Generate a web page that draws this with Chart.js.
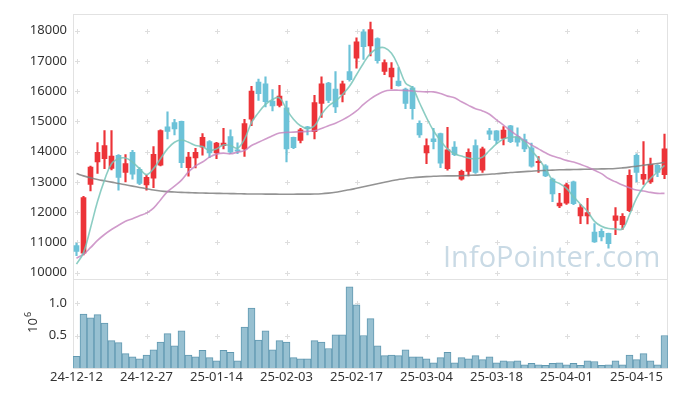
<!DOCTYPE html>
<html>
<head>
<meta charset="utf-8">
<script src="https://cdn.jsdelivr.net/npm/chart.js@4/dist/chart.umd.min.js"></script>
<style>
  html, body { margin: 0; padding: 0; background: #fff; }
</style>
</head>
<body>
<canvas id="stockChart" width="677" height="396"></canvas>
<script>
// trading days shown on the chart
const dates = [
  '24-12-12', '24-12-13', '24-12-16', '24-12-17', '24-12-18', '24-12-19', '24-12-20', '24-12-23', '24-12-24', '24-12-26',
  '24-12-27', '24-12-30', '25-01-02', '25-01-03', '25-01-06', '25-01-07', '25-01-08', '25-01-09', '25-01-10', '25-01-13',
  '25-01-14', '25-01-15', '25-01-16', '25-01-17', '25-01-20', '25-01-21', '25-01-22', '25-01-23', '25-01-24', '25-01-31',
  '25-02-03', '25-02-04', '25-02-05', '25-02-06', '25-02-07', '25-02-10', '25-02-11', '25-02-12', '25-02-13', '25-02-14',
  '25-02-17', '25-02-18', '25-02-19', '25-02-20', '25-02-21', '25-02-24', '25-02-25', '25-02-26', '25-02-27', '25-02-28',
  '25-03-04', '25-03-05', '25-03-06', '25-03-07', '25-03-10', '25-03-11', '25-03-12', '25-03-13', '25-03-14', '25-03-17',
  '25-03-18', '25-03-19', '25-03-20', '25-03-21', '25-03-24', '25-03-25', '25-03-26', '25-03-27', '25-03-28', '25-03-31',
  '25-04-01', '25-04-02', '25-04-03', '25-04-04', '25-04-07', '25-04-08', '25-04-09', '25-04-10', '25-04-11', '25-04-14',
  '25-04-15', '25-04-16', '25-04-17', '25-04-18', '25-04-21'
];

const opens = [
  10900, 10650, 12920, 13660, 13770, 13450, 13880, 13310, 13980, 13420,
  12900, 13120, 13550, 14820, 14960, 15000, 13470, 13790, 14150, 14330,
  13960, 14200, 14500, 14060, 14090, 15070, 16300, 16240, 15670, 15530,
  15450, 14470, 14370, 14820, 14660, 15590, 16270, 16070, 15890, 16650,
  17090, 17960, 17490, 17740, 16650, 16470, 16330, 16070, 16110, 14940,
  13960, 14420, 14600, 13440, 14150, 13090, 13350, 14200, 13390, 14690,
  14690, 14440, 14850, 14500, 14400, 14130, 13640, 13530, 13090, 12210,
  12300, 13000, 11880, 11880, 11340, 11370, 11300, 11730, 11590, 12050,
  13880, 13090, 13000, 13550, 13240
];
const highs = [
  10980, 12520, 13520, 14300, 14700, 14700, 13900, 13900, 14040, 13470,
  13220, 14170, 14720, 15320, 15070, 15010, 13980, 14110, 14600, 14370,
  14310, 14770, 14720, 14290, 15070, 16160, 16400, 16470, 16050, 16190,
  15670, 14480, 14770, 14840, 15860, 16470, 16290, 16650, 16330, 17520,
  17760, 18030, 18280, 17760, 17030, 16940, 16780, 16100, 16160, 15020,
  14420, 14770, 14610, 14800, 14330, 13390, 14090, 14390, 14150, 14770,
  14700, 14830, 14870, 14790, 14580, 14280, 13840, 13570, 13130, 12620,
  12950, 13030, 12260, 12460, 11620, 11450, 11310, 12150, 11950, 13400,
  13930, 14330, 13790, 13570, 14580
];
const lows = [
  10560, 10590, 12700, 13280, 13440, 13400, 12730, 13000, 13090, 12910,
  12730, 12810, 13530, 14420, 14550, 13470, 13190, 13460, 13880, 13800,
  13770, 14090, 13930, 13930, 13840, 14860, 15690, 15480, 15350, 15480,
  13660, 14100, 14290, 14550, 14420, 15130, 15620, 15290, 15640, 16330,
  16760, 17050, 17160, 16920, 16540, 16070, 16160, 15420, 15070, 14470,
  13600, 14090, 13470, 13390, 13870, 13060, 13200, 13280, 13310, 14400,
  14260, 14220, 14300, 14180, 14000, 13490, 13310, 13170, 12350, 12150,
  12260, 12250, 11620, 11610, 11000, 11050, 10810, 11260, 11430, 12020,
  13000, 12920, 12950, 13170, 13110
];
const closes = [
  10700, 12480, 13490, 13980, 14200, 13850, 13150, 13610, 13260, 12950,
  13150, 13910, 14700, 14670, 14750, 13640, 13820, 13980, 14470, 13960,
  14280, 14280, 13980, 14020, 14930, 16000, 15920, 15650, 15510, 15840,
  14090, 14130, 14720, 14750, 15620, 16240, 15690, 15480, 16240, 16380,
  17630, 17470, 18030, 17010, 16940, 16760, 16180, 15590, 15420, 14550,
  14200, 14330, 13620, 14060, 13900, 13350, 13980, 13310, 14090, 14580,
  14370, 14710, 14330, 14310, 14090, 13520, 13680, 13200, 12600, 12300,
  12900, 12280, 12150, 11990, 11020, 11180, 10960, 11880, 11860, 13220,
  13310, 13250, 13580, 13310, 14090
];

const volumes = [
  180000, 830000, 770000, 820000, 690000, 420000, 390000, 220000, 170000, 140000,
  200000, 280000, 400000, 530000, 340000, 570000, 200000, 170000, 270000, 160000,
  110000, 270000, 240000, 110000, 630000, 920000, 430000, 570000, 280000, 420000,
  400000, 160000, 140000, 140000, 420000, 400000, 300000, 510000, 510000, 1250000,
  970000, 500000, 760000, 340000, 190000, 200000, 190000, 280000, 170000, 170000,
  140000, 80000, 160000, 240000, 80000, 160000, 140000, 190000, 130000, 170000,
  80000, 110000, 100000, 110000, 50000, 70000, 50000, 40000, 70000, 80000,
  50000, 70000, 40000, 110000, 100000, 40000, 50000, 110000, 50000, 200000,
  130000, 220000, 110000, 50000, 500000
];

// moving averages as they appear on the chart
const ma5 = [
  10283, 10663, 11480, 12351, 13060, 13602, 13766, 13788, 13657, 13440,
  13242, 13440, 13766, 14092, 14310, 14386, 14310, 14202, 14169, 14039,
  14092, 14223, 14200, 14114, 14418, 14963, 15290, 15561, 15725, 15780,
  15398, 15071, 14855, 14767, 14855, 15235, 15510, 15670, 15888, 16161,
  16541, 16923, 17249, 17412, 17434, 17249, 16814, 16270, 16106, 15616,
  15127, 14691, 14365, 14092, 13929, 13853, 13788, 13766, 13820, 14039,
  14256, 14418, 14473, 14473, 14310, 14039, 13766, 13440, 13060, 12948,
  12785, 12514, 12264, 12024, 11698, 11535, 11459, 11447, 11447, 11916,
  12460, 12841, 13112, 13331, 13549
];
const ma20 = [
  10480, 10610, 10827, 11067, 11263, 11427, 11567, 11698, 11784, 11884,
  11970, 12133, 12406, 12678, 12862, 13060, 13331, 13527, 13657, 13820,
  13918, 13951, 13929, 13984, 14039, 14202, 14310, 14418, 14527, 14614,
  14637, 14647, 14659, 14669, 14691, 14767, 14855, 14941, 15051, 15182,
  15345, 15561, 15747, 15888, 15997, 16031, 16031, 16020, 16008, 15986,
  15975, 15975, 15920, 15835, 15780, 15649, 15529, 15420, 15345, 15235,
  15051, 14876, 14691, 14527, 14365, 14223, 14092, 13962, 13853, 13788,
  13712, 13657, 13582, 13494, 13385, 13275, 13112, 13004, 12896, 12808,
  12733, 12700, 12655, 12622, 12622
];
const ma60 = [
  13275, 13200, 13135, 13080, 13037, 12994, 12948, 12906, 12862, 12818,
  12776, 12733, 12700, 12678, 12667, 12655, 12645, 12638, 12632, 12627,
  12622, 12620, 12615, 12610, 12605, 12600, 12600, 12598, 12596, 12595,
  12595, 12595, 12596, 12598, 12600, 12610, 12630, 12660, 12700, 12740,
  12790, 12840, 12890, 12940, 12990, 13040, 13080, 13115, 13140, 13160,
  13175, 13185, 13195, 13200, 13200, 13205, 13215, 13225, 13240, 13255,
  13270, 13290, 13310, 13325, 13340, 13355, 13370, 13380, 13390, 13400,
  13405, 13410, 13415, 13420, 13425, 13430, 13435, 13445, 13465, 13490,
  13520, 13550, 13580, 13610, 13650
];

const priceTicks = [10000, 11000, 12000, 13000, 14000, 15000, 16000, 17000, 18000];
const volumeTicks = [500000, 1000000];
const labelEvery = 10;

const upColor = '#ec3338';
const downColor = '#6cc2d8';
const candleColors = closes.map((c, i) => (c >= opens[i] ? upColor : downColor));
const tickFont = { family: '"Noto Sans", sans-serif', size: 13 };

// crosses at grid intersections, panel frame, watermark and the 10^6 label
const panelDecor = {
  id: 'panelDecor',
  beforeDatasetsDraw(chart) {
    const { ctx, chartArea } = chart;
    const x = chart.scales.x, y = chart.scales.y, yv = chart.scales.yv;
    ctx.save();

    ctx.font = '29px "Open Sans", sans-serif';
    ctx.fillStyle = '#c9dae5';
    ctx.textBaseline = 'alphabetic';
    ctx.fillText('InfoPointer.com', chartArea.right - 225, y.bottom - 12);

    ctx.strokeStyle = '#dedede';
    ctx.lineWidth = 1;
    const rows = priceTicks.map(v => y.getPixelForValue(v))
      .concat(volumeTicks.map(v => yv.getPixelForValue(v)));
    for (let i = 0; i < dates.length; i += labelEvery) {
      const px = Math.round(x.getPixelForValue(i)) + 0.5;
      rows.forEach(r => {
        const py = Math.round(r) + 0.5;
        ctx.beginPath();
        ctx.moveTo(px - 2.5, py); ctx.lineTo(px + 2.5, py);
        ctx.moveTo(px, py - 2.5); ctx.lineTo(px, py + 2.5);
        ctx.stroke();
      });
    }

    ctx.strokeStyle = '#e2e2e2';
    ctx.strokeRect(Math.round(chartArea.left) + 0.5, Math.round(chartArea.top) + 0.5,
      Math.round(chartArea.right - chartArea.left) - 1, Math.round(chartArea.bottom - chartArea.top));
    ctx.beginPath();
    ctx.moveTo(chartArea.left, Math.round(yv.top) + 0.5);
    ctx.lineTo(chartArea.right, Math.round(yv.top) + 0.5);
    ctx.stroke();
    ctx.restore();
  },
  afterDraw(chart) {
    const { ctx } = chart;
    const yv = chart.scales.yv;
    ctx.save();
    ctx.translate(37, yv.top + 54);
    ctx.rotate(-Math.PI / 2);
    ctx.fillStyle = '#333';
    ctx.font = '13px "Noto Sans", sans-serif';
    ctx.textBaseline = 'alphabetic';
    ctx.fillText('10', 0, 0);
    const w = ctx.measureText('10').width;
    ctx.font = '9px "Noto Sans", sans-serif';
    ctx.fillText('6', w + 1, -6);
    ctx.restore();
  }
};

new Chart(document.getElementById('stockChart'), {
  data: {
    labels: dates,
    datasets: [
      {
        type: 'line', label: 'MA5', data: ma5, yAxisID: 'y', order: 0,
        borderColor: 'rgba(120,196,184,0.85)', borderWidth: 1.6, pointRadius: 0, tension: 0.4
      },
      {
        type: 'line', label: 'MA20', data: ma20, yAxisID: 'y', order: 0,
        borderColor: 'rgba(196,130,190,0.8)', borderWidth: 1.6, pointRadius: 0, tension: 0.4
      },
      {
        type: 'line', label: 'MA60', data: ma60, yAxisID: 'y', order: 0,
        borderColor: 'rgba(128,128,128,0.85)', borderWidth: 1.6, pointRadius: 0, tension: 0.4
      },
      {
        type: 'bar', label: 'body', data: opens.map((o, i) => [o, closes[i]]), yAxisID: 'y', order: 1,
        backgroundColor: candleColors, barThickness: 5, grouped: false, minBarLength: 1
      },
      {
        type: 'bar', label: 'wick', data: lows.map((l, i) => [l, highs[i]]), yAxisID: 'y', order: 2,
        backgroundColor: candleColors, barThickness: 1.5, grouped: false
      },
      {
        type: 'bar', label: 'volume', data: volumes, yAxisID: 'yv', order: 3,
        backgroundColor: '#97c0d1', borderColor: '#6199b1', borderWidth: 1,
        categoryPercentage: 1, barPercentage: 1, grouped: false
      }
    ]
  },
  options: {
    responsive: false,
    animation: false,
    devicePixelRatio: 1,
    layout: { padding: { top: 10, right: 9, left: 0, bottom: 0 } },
    plugins: { legend: { display: false }, tooltip: { enabled: false } },
    scales: {
      x: {
        type: 'category',
        offset: true,
        grid: { display: false, drawTicks: false },
        border: { display: false },
        afterFit: axis => { axis.height = 28; },
        ticks: {
          autoSkip: false, maxRotation: 0, padding: 1, color: '#333', font: tickFont,
          callback: (v, i) => (i % labelEvery === 0 ? dates[i] : null)
        }
      },
      yv: {
        type: 'linear', position: 'left', stack: 'panels', stackWeight: 90,
        min: 0, max: 1370000,
        grid: { display: false, drawTicks: false },
        border: { display: false },
        afterFit: axis => { axis.width = 73; },
        afterBuildTicks: axis => { axis.ticks = volumeTicks.map(v => ({ value: v })); },
        ticks: { autoSkip: false, padding: 6, color: '#333', font: tickFont, callback: v => (v / 1e6).toFixed(1) }
      },
      y: {
        type: 'linear', position: 'left', stack: 'panels', stackWeight: 268,
        min: 9794, max: 18555,
        grid: { display: false, drawTicks: false },
        border: { display: false },
        afterFit: axis => { axis.width = 73; },
        afterBuildTicks: axis => { axis.ticks = priceTicks.map(v => ({ value: v })); },
        ticks: { autoSkip: false, padding: 6, color: '#333', font: tickFont, callback: v => String(v) }
      }
    }
  },
  plugins: [panelDecor]
});
</script>
</body>
</html>
